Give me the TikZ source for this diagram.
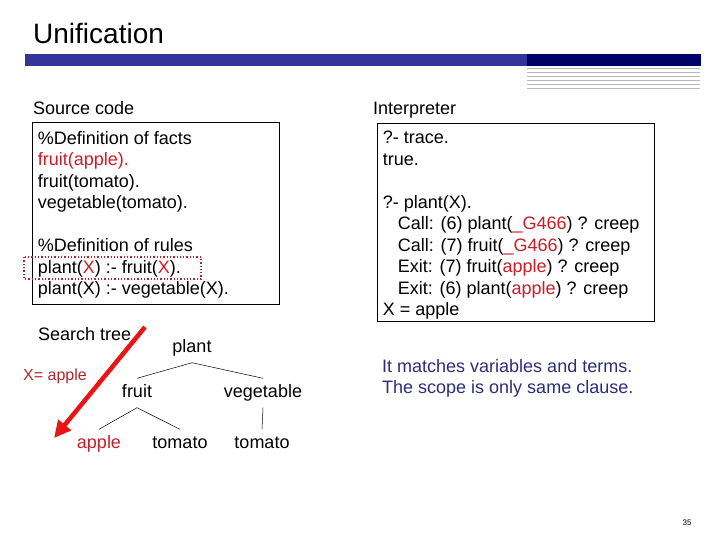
\documentclass[tikz,border=0pt]{standalone}
\usepackage{fontspec}
\setmainfont{Liberation Sans}
\usetikzlibrary{arrows.meta, positioning}

\definecolor{barblue}{RGB}{51,51,153}
\definecolor{barnavy}{RGB}{0,0,102}
\definecolor{codered}{RGB}{200,30,40}
\definecolor{darkred}{RGB}{170,40,50}
\definecolor{noteblue}{RGB}{45,45,120}

\begin{document}
\begin{tikzpicture}[
    x=1pt, y=-1pt,
    txt/.style={font=\fontsize{18}{21.5}\selectfont, inner sep=0pt},
    label/.style={txt, anchor=west, text height=13pt, text depth=4pt},
    codebox/.style={draw, line width=0.8pt, align=flush left, anchor=north west, inner xsep=5.5pt, inner ysep=0pt},
    treenode/.style={font=\fontsize{18}{21.5}\selectfont, text height=13pt, text depth=4pt, inner xsep=0pt, inner ysep=6pt},
    branch/.style={line width=0.5pt},
    searcharrow/.style={line width=4.5pt, draw={rgb,255:red,235;green,20;blue,20}, -{Triangle[length=17pt,width=16pt]}}
]
\useasboundingbox (0,0) rectangle (720,540);

% title and bar
\node (title) [anchor=west, font=\fontsize{28}{32}\selectfont, inner sep=0pt] at (33,33) {Unification};
\fill [barblue] (25,54) rectangle (527,66);
\fill [barnavy] (527,54) rectangle (701,66);
\foreach \y in {68.5,72.5,...,88.5}
    \draw [gray!55, line width=0.8pt] (527,\y) -- (700,\y);

% source code
\node (srclabel) [label] at (33,110) {Source code};
\node (src) [codebox, txt, inner xsep=5.5pt, text width=236pt, minimum height=182pt] at (32,122) {%
    \rule{0pt}{16pt}\%Definition of facts\\
    \textcolor{codered}{fruit(apple).}\\
    fruit(tomato).\\
    vegetable(tomato).\\[21.3pt]
    \%Definition of rules\\
    plant(\textcolor{codered}{X}) :- fruit(\textcolor{codered}{X}).\\
    plant(X) :- vegetable(X).};
\draw [darkred, line width=1.3pt, dotted] (24,257) rectangle (201,279);

% interpreter
\node (intlabel) [label] at (373,110) {Interpreter};
\node (interp) [codebox, txt, inner xsep=5.5pt, text width=266pt, minimum height=198pt] at (377,123) {%
    \rule{0pt}{18pt}?- trace.\\
    true.\\[21.5pt]
    ?- plant(X).\\
    \hspace*{15pt}Call: (6) plant(\textcolor{codered}{\_G466}) ? creep\\
    \hspace*{15pt}Call: (7) fruit(\textcolor{codered}{\_G466}) ? creep\\
    \hspace*{15pt}Exit: (7) fruit(\textcolor{codered}{apple}) ? creep\\
    \hspace*{15pt}Exit: (6) plant(\textcolor{codered}{apple}) ? creep\\
    X = apple};

% search tree
\node (searchlabel) [label] at (38,336) {Search tree};
\node (binding) [label, font=\fontsize{16}{19}\selectfont, text=darkred] at (23,376) {X= apple};

\node (plant) [treenode] at (192,348) {plant};
\node (fruit) [treenode] at (137,393) {fruit};
\node (vegetable) [treenode] at (263,393) {vegetable};
\node (apple) [treenode, text=codered] at (99,444) {apple};
\node (tomatoA) [treenode] at (180,444) {tomato};
\node (tomatoB) [treenode] at (262,444) {tomato};

\draw [branch] (plant.south) -- (fruit.north);
\draw [branch] (plant.south) -- (vegetable.north);
\draw [branch] (fruit.south) -- (apple.north);
\draw [branch] (fruit.south) -- (tomatoA.north);
\draw [branch] (vegetable.south) -- (tomatoB.north);

\coordinate (arrowstart) at (145,327);
\coordinate (arrowend) at (54,438);
\draw [searcharrow] (arrowstart) -- (arrowend);

% note
\node (note) [txt, anchor=west, align=left, text=noteblue] at (382,378.5) {It matches variables and terms.\\The scope is only same clause.};

\node (pagenum) [anchor=center, font=\fontsize{8}{10}\selectfont, inner sep=0pt] at (687,523) {35};

\end{tikzpicture}
\end{document}
